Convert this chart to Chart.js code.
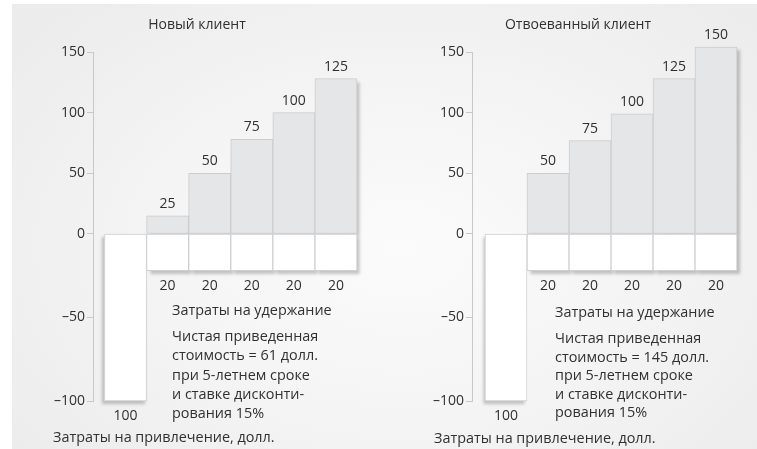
<!DOCTYPE html>
<html lang="ru">
<head>
<meta charset="utf-8">
<title>Новый клиент / Отвоеванный клиент</title>
<script src="https://cdn.jsdelivr.net/npm/chart.js@4.4.1/dist/chart.umd.min.js"></script>
<style>
    html, body { margin: 0; padding: 0; background: #ffffff; }
    #scene {
        position: relative; width: 757px; height: 449px; overflow: hidden;
        font-family: 'Open Sans', sans-serif; color: #303030;
    }
    #fond {
        position: absolute; left: 12px; top: 4px; right: 0; bottom: 0;
        background: radial-gradient(ellipse 65% 75% at 52% 55%, #fbfbfb 0%, #f5f5f5 45%, #ececec 100%);
    }
    canvas { position: absolute; top: 0; }
    #gauche { left: 0; }
    #droite { left: 378px; }
    .txt { position: absolute; font-size: 14.4px; line-height: 19.3px; white-space: nowrap; }
    .titre { transform: translateX(-50%); font-size: 14px; }
</style>
</head>
<body>
<div id="scene">
    <div id="fond"></div>
    <canvas id="gauche" width="378" height="449"></canvas>
    <canvas id="droite" width="379" height="449"></canvas>

    <div class="txt titre" style="left:197px; top:14px;">Новый клиент</div>
    <div class="txt" style="left:172px; top:300px;">Затраты на удержание</div>
    <div class="txt" style="left:172px; top:326px;">Чистая приведенная<br>стоимость = 61 долл.<br>при 5-летнем сроке<br>и ставке дисконти-<br>рования 15%</div>
    <div class="txt" style="left:53px; top:427px;">Затраты на привлечение, долл.</div>

    <div class="txt titre" style="left:578px; top:14px;">Отвоеванный клиент</div>
    <div class="txt" style="left:555px; top:302px;">Затраты на удержание</div>
    <div class="txt" style="left:555px; top:329px; line-height:18.6px;">Чистая приведенная<br>стоимость = 145 долл.<br>при 5-летнем сроке<br>и ставке дисконти-<br>рования 15%</div>
    <div class="txt" style="left:434px; top:428px;">Затраты на привлечение, долл.</div>
</div>

<script>
// Données
const annees = [1, 2, 3, 4, 5];
const coutAcquisition = [-100];
const etiquettesAcquisition = ['100'];
const coutRetention = [-22, -22, -22, -22, -22];
const etiquettesRetention = ['20', '20', '20', '20', '20'];
const revenusNouveau = [15, 50, 78, 100, 128];
const etiquettesNouveau = ['25', '50', '75', '100', '125'];
const revenusReconquis = [50, 77, 99, 128, 154];
const etiquettesReconquis = ['50', '75', '100', '125', '150'];
const ticksHaut = [0, 50, 100, 150];
const ticksBas = [-100, -50];

const police = "'Open Sans', sans-serif";
const couleurTexte = '#303030';
const couleurLigne = '#c8c8c8';

// Ombre portée sous les barres
const pluginOmbre = {
    id: 'ombre',
    beforeDatasetsDraw(chart) {
        const ctx = chart.ctx;
        chart.data.datasets.forEach((ds, i) => {
            chart.getDatasetMeta(i).data.forEach(barre => {
                const p = barre.getProps(['x', 'y', 'base', 'width'], true);
                ctx.save();
                ctx.shadowColor = 'rgba(0,0,0,0.22)';
                ctx.shadowBlur = 3;
                ctx.shadowOffsetX = ds.ombreX;
                ctx.shadowOffsetY = 3;
                ctx.fillStyle = ds.backgroundColor;
                ctx.fillRect(p.x - p.width / 2, Math.min(p.y, p.base), p.width, Math.abs(p.y - p.base));
                ctx.restore();
            });
        });
    }
};

// Valeurs au-dessus / au-dessous des barres
const pluginEtiquettes = {
    id: 'etiquettes',
    afterDatasetsDraw(chart) {
        const ctx = chart.ctx;
        ctx.save();
        ctx.font = '14px ' + police;
        ctx.fillStyle = couleurTexte;
        ctx.textAlign = 'center';
        ctx.textBaseline = 'middle';
        chart.data.datasets.forEach((ds, i) => {
            chart.getDatasetMeta(i).data.forEach((barre, j) => {
                const enHaut = barre.y < barre.base;
                ctx.fillText(ds.etiquettes[j], barre.x, enHaut ? barre.y - 12 : barre.y + 15);
            });
        });
        ctx.restore();
    }
};

function formatTick(v) {
    return v < 0 ? '\u2013' + Math.abs(v) : String(v);
}

function axeY(ticks, min, max, poidsPile, poids) {
    return {
        position: 'left',
        stack: 'y',
        stackWeight: poidsPile,
        weight: poids,
        min: min,
        max: max,
        afterBuildTicks: s => { s.ticks = ticks.map(v => ({ value: v })); },
        afterFit: s => { s.width = 40; },
        ticks: { color: couleurTexte, font: { family: police, size: 14 }, padding: 2, autoSkip: false, callback: formatTick },
        grid: { drawOnChartArea: false, drawTicks: true, tickLength: 6, color: couleurLigne },
        border: { display: true, color: couleurLigne, width: 1 }
    };
}

function dessinerPanneau(idCanvas, revenus, etiquettes, padGauche, padDroite, xMin) {
    return new Chart(document.getElementById(idCanvas), {
        type: 'bar',
        data: {
            datasets: [
                {
                    data: [{ x: 0, y: coutAcquisition[0] }],
                    yAxisID: 'yBas',
                    backgroundColor: '#ffffff',
                    borderColor: '#cfcfcf',
                    etiquettes: etiquettesAcquisition,
                    ombreX: -2
                },
                {
                    data: annees.map((a, i) => ({ x: a, y: coutRetention[i] })),
                    yAxisID: 'yBas',
                    backgroundColor: '#ffffff',
                    borderColor: '#cfcfcf',
                    etiquettes: etiquettesRetention,
                    ombreX: 3
                },
                {
                    data: annees.map((a, i) => ({ x: a, y: revenus[i] })),
                    yAxisID: 'yHaut',
                    backgroundColor: '#e5e6e7',
                    borderColor: '#cdcdcd',
                    etiquettes: etiquettes,
                    ombreX: 3
                }
            ]
        },
        options: {
            responsive: false,
            animation: false,
            events: [],
            layout: { padding: { top: 52, bottom: 48, left: padGauche, right: padDroite } },
            plugins: { legend: { display: false }, tooltip: { enabled: false } },
            datasets: {
                bar: { grouped: false, barPercentage: 1, categoryPercentage: 1, clip: false, borderWidth: 1, borderSkipped: false }
            },
            scales: {
                x: { type: 'linear', display: false, offset: false, min: xMin, max: 5.5 },
                yHaut: axeY(ticksHaut, 0, 150, 182, 2),
                yBas: axeY(ticksBas, -100, 0, 167, 1)
            }
        },
        plugins: [pluginOmbre, pluginEtiquettes]
    });
}

dessinerPanneau('gauche', revenusNouveau, etiquettesNouveau, 53, 21, -0.773);
dessinerPanneau('droite', revenusReconquis, etiquettesReconquis, 54, 20, -0.81);
</script>
</body>
</html>
